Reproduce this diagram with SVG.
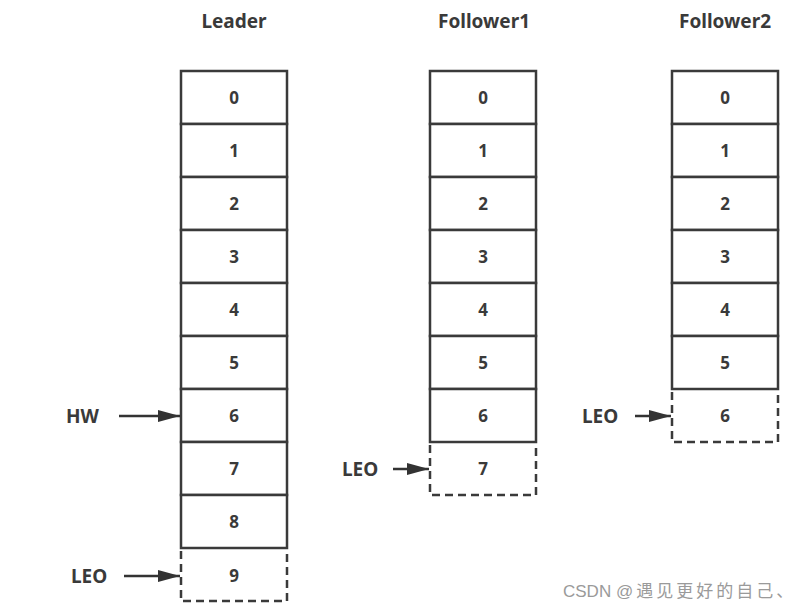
<svg xmlns="http://www.w3.org/2000/svg" width="795" height="611" viewBox="0 0 795 611">
<defs>
<marker id="ah" viewBox="0 0 22 12" refX="22" refY="6" markerWidth="22" markerHeight="12" markerUnits="userSpaceOnUse" orient="auto" preserveAspectRatio="none">
<path d="M0,0 L22,6 L0,12 z" fill="#333"/>
</marker>
<style>
.cell{fill:#fff;stroke:#3a3a3a;stroke-width:2.5}
.dash{fill:none;stroke:#3a3a3a;stroke-width:2.5;stroke-dasharray:8 5}
.t{font-family:"Noto Sans","Open Sans",sans-serif;font-weight:bold;font-size:17px;fill:#3a3a3a;text-anchor:middle;dominant-baseline:central}
.h{font-family:"Noto Sans","Open Sans",sans-serif;font-weight:bold;font-size:19px;fill:#3a3a3a;text-anchor:middle;dominant-baseline:central}
.lbl{font-family:"Noto Sans","Open Sans",sans-serif;font-weight:bold;font-size:19px;fill:#3a3a3a;dominant-baseline:central}
.arr{stroke:#333;stroke-width:2.5;fill:none;marker-end:url(#ah)}
.wm{font-family:"Liberation Sans","Noto Sans CJK SC",sans-serif;font-size:17px;fill:#9a9a9a;dominant-baseline:central}
</style>
</defs>
<rect width="795" height="611" fill="#fff"/>
<g id="leader">
<text class="h" x="234" y="21">Leader</text>
<rect class="cell" x="181" y="71" width="106" height="53"/><text class="t" x="234" y="97.5">0</text>
<rect class="cell" x="181" y="124" width="106" height="53"/><text class="t" x="234" y="150.5">1</text>
<rect class="cell" x="181" y="177" width="106" height="53"/><text class="t" x="234" y="203.5">2</text>
<rect class="cell" x="181" y="230" width="106" height="53"/><text class="t" x="234" y="256.5">3</text>
<rect class="cell" x="181" y="283" width="106" height="53"/><text class="t" x="234" y="309.5">4</text>
<rect class="cell" x="181" y="336" width="106" height="53"/><text class="t" x="234" y="362.5">5</text>
<rect class="cell" x="181" y="389" width="106" height="53"/><text class="t" x="234" y="415.5">6</text>
<rect class="cell" x="181" y="442" width="106" height="53"/><text class="t" x="234" y="468.5">7</text>
<rect class="cell" x="181" y="495" width="106" height="53"/><text class="t" x="234" y="521.5">8</text>
<path class="dash" d="M181,551 V601 H287 V551"/><text class="t" x="234" y="575">9</text>
</g>
<g id="follower1">
<text class="h" x="484" y="21">Follower1</text>
<rect class="cell" x="430" y="71" width="106" height="53"/><text class="t" x="483" y="97.5">0</text>
<rect class="cell" x="430" y="124" width="106" height="53"/><text class="t" x="483" y="150.5">1</text>
<rect class="cell" x="430" y="177" width="106" height="53"/><text class="t" x="483" y="203.5">2</text>
<rect class="cell" x="430" y="230" width="106" height="53"/><text class="t" x="483" y="256.5">3</text>
<rect class="cell" x="430" y="283" width="106" height="53"/><text class="t" x="483" y="309.5">4</text>
<rect class="cell" x="430" y="336" width="106" height="53"/><text class="t" x="483" y="362.5">5</text>
<rect class="cell" x="430" y="389" width="106" height="53"/><text class="t" x="483" y="415.5">6</text>
<path class="dash" d="M430,445 V495 H536 V445"/><text class="t" x="483" y="468.5">7</text>
</g>
<g id="follower2">
<text class="h" x="725" y="21">Follower2</text>
<rect class="cell" x="672" y="71" width="106" height="53"/><text class="t" x="725" y="97.5">0</text>
<rect class="cell" x="672" y="124" width="106" height="53"/><text class="t" x="725" y="150.5">1</text>
<rect class="cell" x="672" y="177" width="106" height="53"/><text class="t" x="725" y="203.5">2</text>
<rect class="cell" x="672" y="230" width="106" height="53"/><text class="t" x="725" y="256.5">3</text>
<rect class="cell" x="672" y="283" width="106" height="53"/><text class="t" x="725" y="309.5">4</text>
<rect class="cell" x="672" y="336" width="106" height="53"/><text class="t" x="725" y="362.5">5</text>
<path class="dash" d="M672,392 V442 H778 V392"/><text class="t" x="725" y="415.5">6</text>
</g>
<g id="labels">
<text class="lbl" x="66" y="416">HW</text>
<text class="lbl" x="71" y="576">LEO</text>
<text class="lbl" x="342" y="469">LEO</text>
<text class="lbl" x="582" y="416">LEO</text>
</g>
<g id="connectors">
<line class="arr" x1="119" y1="416" x2="180" y2="416"/>
<line class="arr" x1="124" y1="576" x2="180" y2="576"/>
<line class="arr" x1="393" y1="469" x2="429" y2="469"/>
<line class="arr" x1="635" y1="416" x2="671" y2="416"/>
</g>
<text class="wm" x="563" y="591">CSDN <tspan letter-spacing="3">@遇见更好的自己、</tspan></text>
</svg>
